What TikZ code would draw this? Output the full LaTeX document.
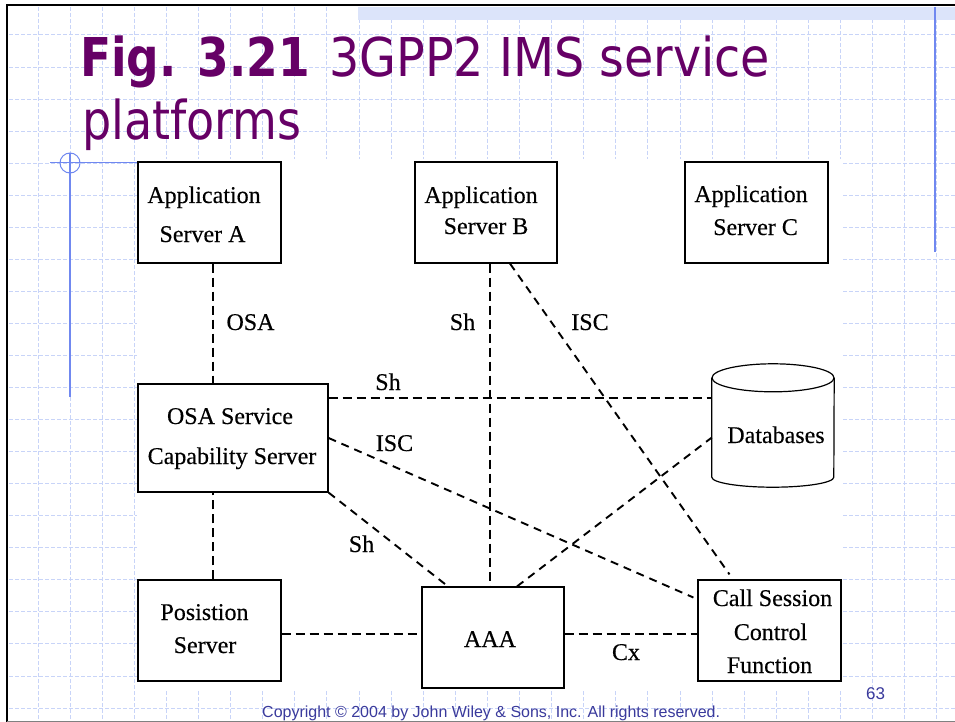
\documentclass[tikz,border=0pt]{standalone}
\usepackage{fontspec}
\setmainfont{Liberation Serif}
\newfontfamily\figfont[FakeBold=0.3]{Liberation Serif}
\newfontfamily\ttlfont[FakeStretch=0.86]{DejaVu Sans}
\newfontfamily\ttlwide[FakeStretch=0.89]{DejaVu Sans}
\newfontfamily\ttlbold[FakeStretch=0.85]{DejaVu Sans}
\newfontfamily\footfont{Liberation Sans}
\usetikzlibrary{calc}
\definecolor{titlepurple}{RGB}{102,0,102}
\definecolor{gridblue}{RGB}{200,212,248}
\definecolor{bandblue}{RGB}{220,228,250}
\definecolor{ruleblue}{RGB}{112,136,240}
\definecolor{footblue}{RGB}{58,58,156}
\tikzset{
  gridline/.style={draw=gridblue, line width=1pt, dash pattern=on 4pt off 2pt},
  box/.style={draw, line width=1.2pt, inner sep=0pt, minimum width=#1},
  box/.default=143pt,
  lbl/.style={anchor=base, inner sep=0pt, font=\figfont\fontsize{24}{28}\selectfont},
  link/.style={draw, line width=1.5pt, dash pattern=on 9pt off 5pt},
  slant/.style={link, line width=1.9pt, dash pattern=on 8pt off 6pt},
  ttl/.style={anchor=base west, inner sep=0pt, text=titlepurple},
}
\begin{document}
\begin{tikzpicture}[x=1pt, y=-1pt]
\useasboundingbox (0,0) rectangle (955,722);
\fill[white] (0,0) rectangle (955,722);

% slide grid
\foreach \k in {0,...,21}
  \draw[gridline] (9,{35+32.05*\k}) -- (955,{35+32.05*\k});
\foreach \k in {0,...,28}
  \draw[gridline] ({38+32.1*\k},7) -- ({38+32.1*\k},720);

% figure area and header band
\fill[white] (137,159) rectangle (842,690);
\fill[bandblue] (358,7) rectangle (955,20);

% slide frame
\draw[line width=2.5pt] (7,722) -- (7,5) -- (955,5);
\draw[gray, line width=1pt] (7,721) -- (955,721);

% blue rules
\draw[ruleblue, line width=2pt] (935,7) -- (935,252);
\draw[ruleblue, line width=2pt] (70,153) -- (70,397);
\draw[ruleblue, line width=1pt] (50,163) -- (138,163);
\draw[ruleblue, line width=1pt] (70,163) circle (10pt);

% title
\node[ttl, font=\ttlbold\bfseries\fontsize{53.5}{60}\selectfont] (title1) at (80,77)
  {Fig. 3.21};
\node[ttl, font=\ttlwide\fontsize{53.5}{60}\selectfont] (title1b) at (329,77)
  {3GPP2 IMS service};
\node[ttl, font=\ttlfont\fontsize{53.5}{60}\selectfont] (title2) at (82,140)
  {platforms};

% boxes
\node[box, minimum height=101pt] (asA) at (209.5,212.5) {};
\node[box=142pt, minimum height=101pt] (asB) at (486,212.5) {};
\node[box, minimum height=101pt] (asC) at (756.5,212.5) {};
\node[box=190pt, minimum height=108pt] (osa) at (233,438) {};
\node[box, minimum height=101pt] (pos) at (209.5,630.5) {};
\node[box=142pt, minimum height=101pt] (aaa) at (493,637.5) {};
\node[box, minimum height=101pt] (cscf) at (769.5,630.5) {};
\node[inner sep=0pt, minimum width=122pt, minimum height=123pt] (db) at (773,425.5) {};

% database cylinder
\draw[line width=1.2pt] ([yshift=-14pt]db.north) ellipse [x radius=61pt, y radius=14pt];
\draw[line width=1.2pt] ([yshift=-14pt]db.north west) -- ([yshift=10pt]db.south west)
  arc[start angle=180, end angle=360, x radius=61pt, y radius=10pt]
  -- ([yshift=-14pt]db.north east);

% box texts
\node[lbl] (asA1) at (204,203) {Application};
\node[lbl] (asA2) at (202.5,242) {Server A};
\node[lbl] (asB1) at (481,203) {Application};
\node[lbl] (asB2) at (486,234) {Server B};
\node[lbl] (asC1) at (751,202) {Application};
\node[lbl] (asC2) at (755.5,235) {Server C};
\node[lbl] (osa1) at (230,424) {OSA Service};
\node[lbl] (osa2) at (232,464) {Capability Server};
\node[lbl] (db1) at (776,443) {Databases};
\node[lbl] (pos1) at (204.5,620) {Posistion};
\node[lbl] (pos2) at (205,653) {Server};
\node[lbl] (aaa1) at (490,647) {AAA};
\node[lbl] (cscf1) at (772.5,606) {Call Session};
\node[lbl] (cscf2) at (770.5,640) {Control};
\node[lbl] (cscf3) at (769.5,673) {Function};

% interfaces
\draw[link] ([xshift=3.5pt]asA.south) coordinate (la) -- (la |- osa.north);
\draw[link] ([xshift=3.5pt]pos.north) coordinate (lp) -- (lp |- osa.south);
\draw[link] ([xshift=4pt]asB.south) coordinate (lb) -- (lb |- aaa.north);
\draw[slant] ([xshift=24pt]asB.south) -- ([xshift=-40pt,yshift=5pt]cscf.north);
\draw[link] ([yshift=40pt]osa.east) coordinate (ls) -- (ls -| db.west);
\draw[slant] (osa.east) -- ([xshift=-4pt,yshift=33pt]cscf.west);
\draw[slant] (osa.south east) -- ([xshift=-45pt]aaa.north);
\draw[slant] ([xshift=24pt]aaa.north) -- ([yshift=-12pt]db.west);
\draw[link] ([yshift=-3.5pt]pos.east) coordinate (lq) -- (lq -| aaa.west);
\draw[link] ([yshift=3.5pt]aaa.east) coordinate (lc) -- (lc -| cscf.west);

% interface labels
\node[lbl] (iOSA) at (250.5,330) {OSA};
\node[lbl] (iSh1) at (462.5,330) {Sh};
\node[lbl] (iISC1) at (590,330) {ISC};
\node[lbl] (iSh2) at (388,390) {Sh};
\node[lbl] (iISC2) at (394.5,451) {ISC};
\node[lbl] (iSh3) at (361.5,552) {Sh};
\node[lbl] (iCx) at (626,660) {Cx};

% footer
\node[anchor=base west, inner sep=0pt, text=footblue,
      font=\footfont\fontsize{16}{19}\selectfont] (copy) at (262,717)
  {Copyright \textcopyright{} 2004 by John Wiley \& Sons, Inc. All rights reserved.};
\node[anchor=base west, inner sep=0pt, text=footblue,
      font=\footfont\fontsize{17}{20}\selectfont] (pageno) at (866,699) {63};
\end{tikzpicture}
\end{document}
